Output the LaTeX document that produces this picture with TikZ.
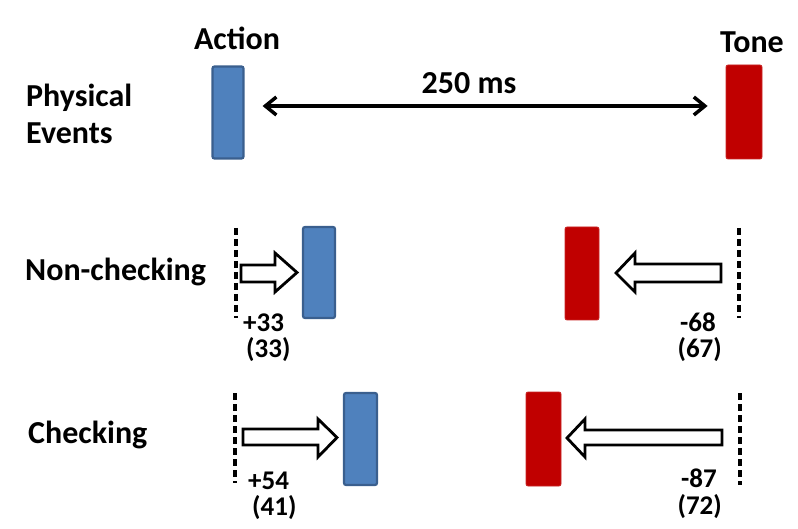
\documentclass[tikz,border=0pt]{standalone}
\usepackage{fontspec}
\setmainfont{Carlito}
\usetikzlibrary{arrows.meta}
\definecolor{barblue}{HTML}{4F81BD}
\definecolor{barblueb}{HTML}{3A5F8E}
\definecolor{barred}{HTML}{C00000}
\tikzset{mybarb/.tip={Straight Barb[length=11pt,width=18pt,line width=3.5pt]}}
\begin{document}
\begin{tikzpicture}[x=1pt,y=-1pt,
  bigtxt/.style={font=\fontsize{32}{36}\selectfont\bfseries, inner sep=0pt},
  numtxt/.style={font=\fontsize{27}{30}\selectfont\bfseries, inner sep=0pt},
  bluebar/.style={draw=barblueb, line width=2.2pt, fill=barblue, rounded corners=2pt, inner sep=0pt},
  redbar/.style={draw=barred!85!white, line width=0.8pt, fill=barred, rounded corners=2pt, inner sep=0pt},
  dashline/.style={line width=3.2pt, dash pattern=on 7pt off 4pt},
  blockarrow/.style={draw=black, fill=white, line width=2.8pt, line join=miter},
]
\useasboundingbox (0,0) rectangle (798,529);

% top row
\node[bigtxt, anchor=base] (lblact) at (237,50) {Action};
\node[bigtxt, anchor=base] (lbltone) at (752,53) {Tone};
\node[bigtxt, anchor=base west] (lblphys) at (26,107) {Physical};
\node[bigtxt, anchor=base west] (lblev) at (26,144) {Events};
\node[bluebar, minimum width=31pt, minimum height=92pt] (act) at (228,112.5) {};
\node[redbar, minimum width=36pt, minimum height=94pt] (tone) at (744,112) {};
\node[bigtxt, anchor=base] (lbl250) at (469,94) {250 ms};
\draw[line width=3.5pt, {mybarb}-{mybarb}, shorten <=18pt, shorten >=18pt]
  (act.east |- 0,106) coordinate (a1) -- (tone.west |- 0,106) coordinate (a2);

% non-checking row
\node[bigtxt, anchor=base west] (lblnc) at (25,281) {Non-checking};
\draw[dashline] (236,228) -- (236,318);
\draw[dashline] (739,228) -- (739,318);
\draw[blockarrow] (241,265) -- (275,265) -- (275,253) -- (297,272.5) -- (275,292) -- (275,282) -- (241,282) -- cycle;
\draw[blockarrow] (721,264) -- (635,264) -- (635,253) -- (616,273) -- (635,292) -- (635,282) -- (721,282) -- cycle;
\node[bluebar, minimum width=32pt, minimum height=91pt] (ncact) at (319,272.5) {};
\node[redbar, minimum width=34pt, minimum height=93pt] (nctone) at (582,273.5) {};
\node[numtxt, anchor=base west] (nca1) at (243,331) {+33};
\node[numtxt, anchor=base west] (nca2) at (246,358) {(33)};
\node[numtxt, anchor=base east] (nct1) at (716,331) {-68};
\node[numtxt, anchor=base east] (nct2) at (722,358) {(67)};

% checking row
\node[bigtxt, anchor=base west] (lblch) at (28,443) {Checking};
\draw[dashline] (235,393) -- (235,483);
\draw[dashline] (740,393) -- (740,485);
\draw[blockarrow] (243,429) -- (318,429) -- (318,419) -- (337,437.5) -- (318,457) -- (318,445) -- (243,445) -- cycle;
\draw[blockarrow] (722,430) -- (585,430) -- (585,419) -- (567,438) -- (585,457) -- (585,445) -- (722,445) -- cycle;
\node[bluebar, minimum width=33pt, minimum height=92pt] (chact) at (360.5,439) {};
\node[redbar, minimum width=35pt, minimum height=94pt] (chtone) at (543.5,439) {};
\node[numtxt, anchor=base west] (cha1) at (248,489) {+54};
\node[numtxt, anchor=base west] (cha2) at (252,515) {(41)};
\node[numtxt, anchor=base east] (cht1) at (717,487) {-87};
\node[numtxt, anchor=base east] (cht2) at (722,514) {(72)};
\end{tikzpicture}
\end{document}
